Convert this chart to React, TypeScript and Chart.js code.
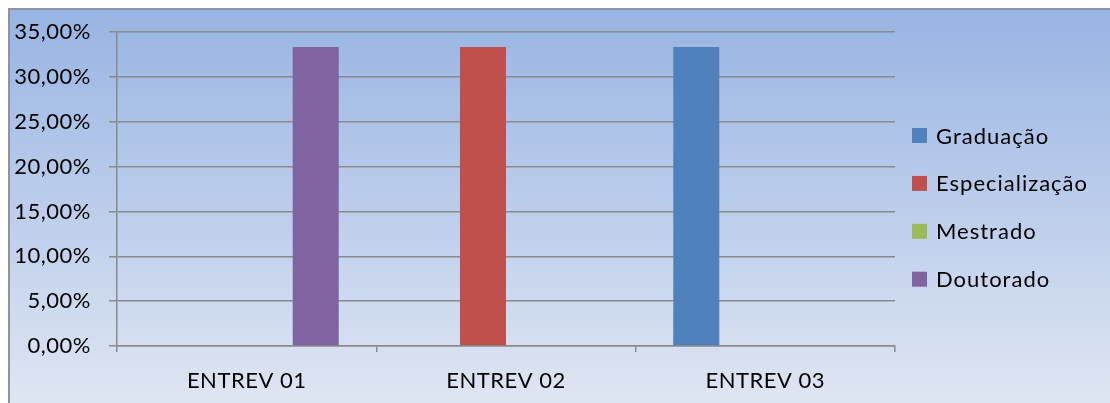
import React, { useEffect, useRef } from "react";
import { Chart, registerables } from "chart.js";

Chart.register(...registerables);

const categories = ["ENTREV 01", "ENTREV 02", "ENTREV 03"];
const seriesNames = ["Graduação", "Especialização", "Mestrado", "Doutorado"];
const graduacao = [0, 0, 33.33];
const especializacao = [0, 33.33, 0];
const mestrado = [0, 0, 0];
const doutorado = [33.33, 0, 0];
const seriesColors = ["#4F81BD", "#C0504D", "#9BBB59", "#8064A2"];
const yTicks = [0, 5, 10, 15, 20, 25, 30, 35];

const FONT = "Lato, 'Open Sans', sans-serif";
const GRID = "#8a8a8a";

const bgPlugin = {
  id: "bgPlugin",
  beforeDraw(chart: any) {
    const { ctx, width, height } = chart;
    ctx.save();
    const g = ctx.createLinearGradient(0, 0, 0, height);
    g.addColorStop(0, "#98b4e3");
    g.addColorStop(1, "#dfe6f3");
    ctx.fillStyle = g;
    ctx.fillRect(0, 0, width, height);
    ctx.strokeStyle = "#8c94a4";
    ctx.lineWidth = 2;
    ctx.strokeRect(1, 1, width - 2 + 10, height - 2 + 10);
    ctx.restore();
    try {
      (ctx as any).letterSpacing = "0.5px";
    } catch (e) {}
  },
};

const legendPlugin = {
  id: "customLegend",
  afterDraw(chart: any) {
    const { ctx } = chart;
    ctx.save();
    ctx.font = `22px ${FONT}`;
    ctx.textBaseline = "middle";
    ctx.textAlign = "left";
    try {
      (ctx as any).letterSpacing = "1px";
    } catch (e) {}
    chart.data.datasets.forEach((ds: any, i: number) => {
      const cy = 127.5 + i * 47.9;
      ctx.fillStyle = ds.backgroundColor;
      ctx.fillRect(904, cy - 7.5, 15, 15);
      ctx.fillStyle = "#000";
      ctx.fillText(ds.label, 928, cy + 1);
    });
    ctx.restore();
  },
};

export default function App() {
  const ref = useRef<HTMLCanvasElement | null>(null);
  useEffect(() => {
    if (!ref.current) return;
    const seriesData = [graduacao, especializacao, mestrado, doutorado];
    const chart = new Chart(ref.current, {
      type: "bar",
      data: {
        labels: categories,
        datasets: seriesNames.map((name, i) => ({
          label: name,
          data: seriesData[i],
          backgroundColor: seriesColors[i],
          borderWidth: 0,
          barPercentage: 1,
          categoryPercentage: 0.71,
        })),
      },
      options: {
        animation: false,
        responsive: false,
        devicePixelRatio: 1,
        layout: { padding: { left: 0, top: 24, right: 215, bottom: 0 } },
        plugins: {
          legend: { display: false },
          tooltip: { enabled: false },
        },
        scales: {
          x: {
            offset: true,
            grid: {
              offset: true,
              drawOnChartArea: false,
              drawTicks: true,
              tickLength: 6,
              color: GRID,
              lineWidth: 1.5,
            },
            border: { color: GRID, width: 1.5 },
            ticks: {
              color: "#000",
              font: { family: FONT, size: 22 },
              padding: 16,
            },
            afterFit(scale: any) {
              scale.height = 57;
              scale.paddingLeft = 0;
              scale.paddingRight = 0;
            },
          },
          y: {
            min: 0,
            max: 35,
            afterBuildTicks(scale: any) {
              scale.ticks = yTicks.map((v) => ({ value: v }));
            },
            grid: {
              color: GRID,
              lineWidth: 1.5,
              tickLength: 8,
            },
            border: { color: GRID, width: 1.5 },
            ticks: {
              color: "#000",
              font: { family: FONT, size: 22 },
              padding: 18,
              callback: (v: any) => Number(v).toFixed(2).replace(".", ",") + "%",
            },
            afterFit(scale: any) {
              scale.width = 109;
              scale.paddingTop = 0;
              scale.paddingBottom = 0;
            },
          },
        },
      },
      plugins: [bgPlugin, legendPlugin],
    });
    return () => chart.destroy();
  }, []);
  return (
    <div style={{ position: "fixed", left: 0, top: 0, width: "100vw", height: "100vh", overflow: "hidden" }}>
      <canvas
        ref={ref}
        width={1102}
        height={395}
        style={{ position: "absolute", left: 8, top: 8, width: 1102, height: 395 }}
      />
    </div>
  );
}
